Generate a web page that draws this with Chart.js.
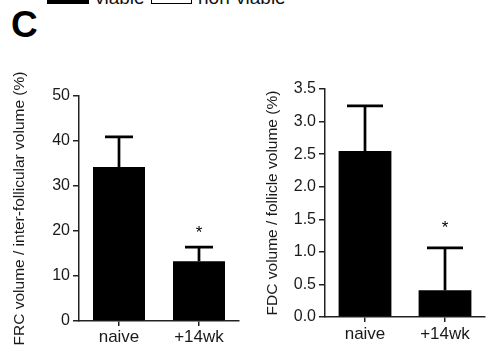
<!DOCTYPE html>
<html>
<head>
<meta charset="utf-8">
<script src="https://cdn.jsdelivr.net/npm/chart.js@4"></script>
<style>
  body { margin: 0; background: #fff; font-family: "Liberation Sans", Arial, sans-serif; }
  #page { position: relative; width: 486px; height: 351px; overflow: hidden; background: #fff; }
  .box { position: absolute; top: -10px; height: 14px; box-sizing: border-box; }
  .lbl { position: absolute; top: -12px; font-size: 19px; line-height: 19px; color: #111; white-space: nowrap; }
  #panel { position: absolute; left: 11px; top: 6px; font-size: 37px; line-height: 37px; font-weight: bold; color: #000; }
  .wrap { position: absolute; top: 60px; }
</style>
</head>
<body>
<div id="page">
  <div class="box" style="left:47px;width:42px;background:#000;"></div>
  <div class="lbl" style="left:95px;">viable</div>
  <div class="box" style="left:151px;width:41px;border:1.5px solid #000;background:#fff;"></div>
  <div class="lbl" style="left:198px;">non-viable</div>
  <div id="panel">C</div>
  <div class="wrap" style="left:0px;"><canvas id="frcChart" width="245" height="291"></canvas></div>
  <div class="wrap" style="left:245px;"><canvas id="fdcChart" width="241" height="291"></canvas></div>
</div>
<script>
// data
const groups = ["naive", "+14wk"];
const frcMean = [34.2, 13.3];
const frcErr = [6.7, 3.1];
const fdcMean = [2.55, 0.41];
const fdcErr = [0.69, 0.65];
const signif = ["", "*"];

const textColor = "#1a1a1a";
const axisColor = "#222";
const fontFamily = "'Liberation Sans', Arial, sans-serif";

// draws the upper half of the error bar and the significance star
const errorBars = {
  id: "errorBars",
  afterDatasetsDraw(chart, args, opts) {
    const ctx = chart.ctx;
    const meta = chart.getDatasetMeta(0);
    const yScale = chart.scales.y;
    const values = chart.data.datasets[0].data;
    ctx.save();
    ctx.strokeStyle = "#000";
    ctx.lineWidth = 2.7;
    meta.data.forEach((bar, i) => {
      const yTop = yScale.getPixelForValue(values[i] + opts.errors[i]);
      ctx.beginPath();
      ctx.moveTo(bar.x, bar.y);
      ctx.lineTo(bar.x, yTop);
      ctx.moveTo(bar.x - opts.cap / 2, yTop);
      ctx.lineTo(bar.x + opts.cap / 2, yTop);
      ctx.stroke();
      if (opts.stars[i]) {
        ctx.fillStyle = "#000";
        ctx.font = "17px " + fontFamily;
        ctx.textAlign = "center";
        ctx.textBaseline = "middle";
        ctx.fillText(opts.stars[i], bar.x, yTop - opts.starGap);
      }
    });
    ctx.restore();
  },
};

function makeChart(id, cfg) {
  return new Chart(document.getElementById(id), {
    type: "bar",
    data: {
      labels: groups,
      datasets: [
        {
          data: cfg.values,
          backgroundColor: "#000",
          borderWidth: 0,
          barPercentage: cfg.barPct,
          categoryPercentage: 1,
        },
      ],
    },
    options: {
      responsive: false,
      animation: false,
      layout: { padding: { left: 0, top: cfg.top, right: cfg.right, bottom: 0 } },
      plugins: {
        legend: { display: false },
        tooltip: { enabled: false },
        errorBars: { errors: cfg.errors, stars: signif, cap: cfg.cap, starGap: cfg.starGap },
      },
      scales: {
        x: {
          offset: true,
          grid: { display: true, offset: false, drawOnChartArea: false, drawTicks: true, tickLength: 5, color: axisColor, lineWidth: 1.5 },
          border: { display: true, color: axisColor, width: 1.5 },
          ticks: { color: textColor, font: { family: fontFamily, size: 17 }, padding: cfg.xPad },
          afterFit(scale) { scale.height = cfg.xHeight; },
        },
        y: {
          min: 0,
          max: cfg.max,
          grid: { display: true, drawOnChartArea: false, drawTicks: true, tickLength: 6, color: axisColor, lineWidth: 1.5 },
          border: { display: true, color: axisColor, width: 1.5 },
          ticks: {
            stepSize: cfg.step,
            color: textColor,
            padding: 3,
            font: { family: fontFamily, size: 16 },
            callback: cfg.fmt,
          },
          title: {
            display: true,
            text: cfg.title,
            color: textColor,
            font: { family: fontFamily, size: 15.5 },
            padding: { top: cfg.titlePad, bottom: 0 },
          },
          afterFit(scale) { scale.width = cfg.yWidth; },
        },
      },
    },
    plugins: [errorBars],
  });
}

makeChart("frcChart", {
  values: frcMean,
  errors: frcErr,
  max: 50,
  step: 10,
  fmt: (v) => v,
  title: "FRC volume / inter-follicular volume (%)",
  titlePad: 10.5,
  yWidth: 79,
  top: 36,
  right: 6,
  xHeight: 30,
  xPad: 1,
  barPct: 0.65,
  cap: 28,
  starGap: 14,
});

makeChart("fdcChart", {
  values: fdcMean,
  errors: fdcErr,
  max: 3.5,
  step: 0.5,
  fmt: (v) => Number(v).toFixed(1),
  title: "FDC volume / follicle volume (%)",
  titlePad: 18.5,
  yWidth: 80,
  top: 29,
  right: 1,
  xHeight: 34,
  xPad: 2,
  barPct: 0.66,
  cap: 36,
  starGap: 20,
});
</script>
</body>
</html>
